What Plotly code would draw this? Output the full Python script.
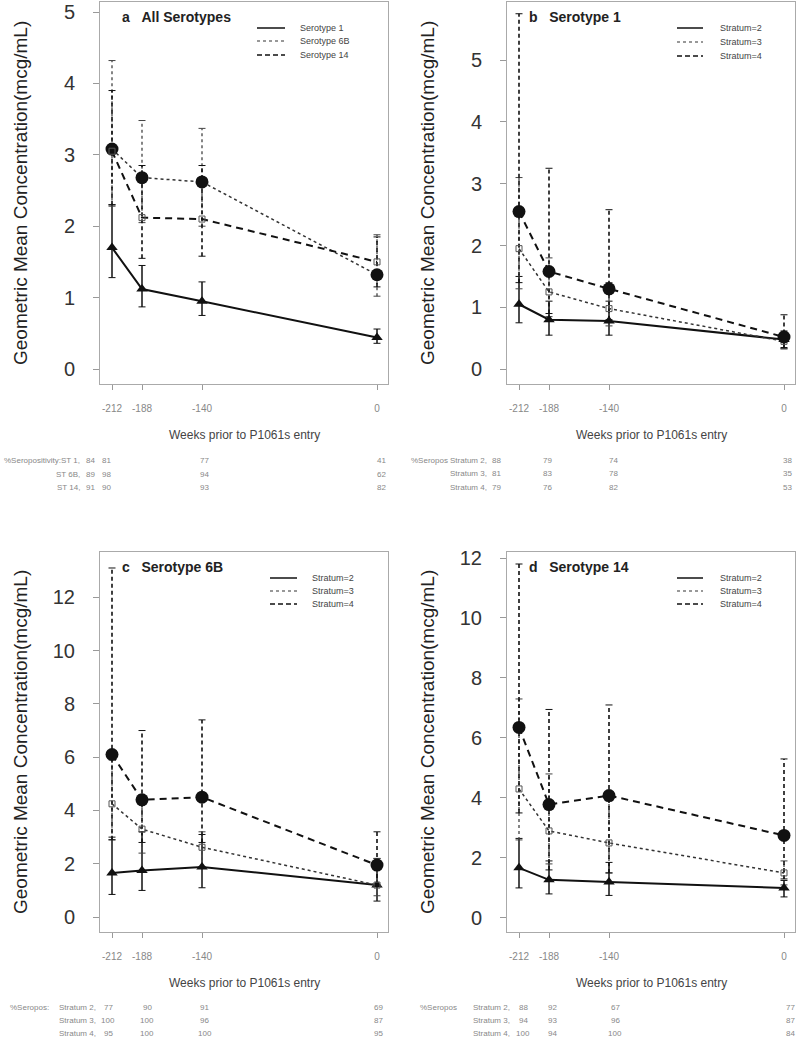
import plotly.graph_objects as go

W, H = 804, 1050

weeks = [-212, -188, -140, 0]
week_labels = ["-212", "-188", "-140", "0"]

# panel a: all serotypes
a_st1 = [1.70, 1.12, 0.95, 0.44]
a_st1_lo = [1.28, 0.87, 0.75, 0.36]
a_st1_hi = [2.30, 1.45, 1.22, 0.56]
a_st6b = [3.08, 2.68, 2.62, 1.32]
a_st6b_lo = [2.28, 2.05, 2.00, 1.02]
a_st6b_hi = [4.32, 3.48, 3.37, 1.88]
a_st14 = [3.05, 2.12, 2.10, 1.50]
a_st14_lo = [2.30, 1.55, 1.58, 1.15]
a_st14_hi = [3.90, 2.85, 2.85, 1.85]

# panel b: serotype 1 by stratum
b_s2 = [1.05, 0.80, 0.78, 0.48]
b_s2_lo = [0.75, 0.55, 0.55, 0.33]
b_s2_hi = [1.50, 1.10, 1.10, 0.60]
b_s3 = [1.95, 1.25, 0.98, 0.45]
b_s3_lo = [1.30, 0.85, 0.70, 0.33]
b_s3_hi = [3.10, 1.80, 1.40, 0.62]
b_s4 = [2.55, 1.58, 1.30, 0.52]
b_s4_lo = [1.40, 0.90, 0.80, 0.35]
b_s4_hi = [5.75, 3.25, 2.58, 0.88]

# panel c: serotype 6B by stratum
c_s2 = [1.65, 1.75, 1.88, 1.20]
c_s2_lo = [0.85, 1.00, 1.10, 0.60]
c_s2_hi = [3.00, 3.20, 3.10, 2.20]
c_s3 = [4.25, 3.30, 2.62, 1.20]
c_s3_lo = [2.90, 2.40, 1.90, 0.80]
c_s3_hi = [5.90, 4.40, 3.20, 2.20]
c_s4 = [6.10, 4.40, 4.50, 1.95]
c_s4_lo = [2.90, 2.80, 2.80, 1.20]
c_s4_hi = [13.1, 7.00, 7.40, 3.20]

# panel d: serotype 14 by stratum
d_s2 = [1.67, 1.27, 1.20, 1.00]
d_s2_lo = [1.00, 0.80, 0.75, 0.70]
d_s2_hi = [2.65, 1.90, 1.85, 1.25]
d_s3 = [4.30, 2.90, 2.50, 1.50]
d_s3_lo = [2.60, 1.80, 1.50, 1.10]
d_s3_hi = [7.30, 4.80, 3.90, 1.90]
d_s4 = [6.35, 3.78, 4.08, 2.75]
d_s4_lo = [3.50, 1.60, 1.50, 1.30]
d_s4_hi = [11.8, 6.95, 7.10, 5.30]

# %seropositivity tables under each panel
a_rows = ["ST 1,", "ST 6B,", "ST 14,"]
a_pct = [[84, 81, 77, 41], [89, 98, 94, 62], [91, 90, 93, 82]]
strata_rows = ["Stratum 2,", "Stratum 3,", "Stratum 4,"]
b_pct = [[88, 79, 74, 38], [81, 83, 78, 35], [79, 76, 82, 53]]
c_pct = [[77, 90, 91, 69], [100, 100, 96, 87], [95, 100, 100, 95]]
d_pct = [[88, 92, 67, 77], [94, 93, 96, 87], [100, 94, 100, 84]]

strata_names = ["Stratum=2", "Stratum=3", "Stratum=4"]

FONT = "Liberation Sans, Arial, sans-serif"

LINE = {
    "solid": dict(color="#111", width=2, dash="solid"),
    "dot": dict(color="#333", width=1.5, dash="dot"),
    "dash": dict(color="#111", width=2, dash="7px,5px"),
}
ERR = {
    "solid": dict(color="#111", width=1.5, dash="solid"),
    "dot": dict(color="#444", width=1.3, dash="dot"),
    "dash": dict(color="#111", width=1.6, dash="4px,3px"),
}
MARK = {
    "tri": dict(symbol="triangle-up", size=10, color="#111"),
    "circ": dict(symbol="circle", size=13, color="#111"),
    "sq": dict(symbol="square-open", size=6, color="#555", line=dict(width=1, color="#555")),
}


def px(x):
    return x / W


def py(y):
    return 1 - y / H


panels = [
    dict(ax="", letter="a", title="All Serotypes", box=(100, 388, 2, 384),
         yrange=[-0.21, 5.14], dtick=1,
         series=[(a_st1, a_st1_lo, a_st1_hi, "solid", "tri"),
                 (a_st6b, a_st6b_lo, a_st6b_hi, "dot", "circ"),
                 (a_st14, a_st14_lo, a_st14_hi, "dash", "sq")],
         names=["Serotype 1", "Serotype 6B", "Serotype 14"],
         leg=(257, 285, 298, [28, 41, 55]),
         ytitle_x=20,
         tab=dict(rows=a_rows, pct=a_pct, head="%Seropositivity:", head_x=2,
                  lab_x=82, cols=[90, 106, 205, 381], ys=[461, 475, 488])),
    dict(ax="2", letter="b", title="Serotype 1", box=(507, 795, 2, 384),
         yrange=[-0.24, 5.94], dtick=1,
         series=[(b_s2, b_s2_lo, b_s2_hi, "solid", "tri"),
                 (b_s3, b_s3_lo, b_s3_hi, "dot", "sq"),
                 (b_s4, b_s4_lo, b_s4_hi, "dash", "circ")],
         names=strata_names,
         leg=(677, 703, 718, [28, 42, 56]),
         ytitle_x=427,
         tab=dict(rows=strata_rows, pct=b_pct, head="%Seropos", head_x=409,
                  lab_x=489, cols=[496, 547, 613, 787], ys=[461, 474, 487])),
    dict(ax="3", letter="c", title="Serotype 6B", box=(100, 388, 552, 932),
         yrange=[-0.56, 13.70], dtick=2,
         series=[(c_s2, c_s2_lo, c_s2_hi, "solid", "tri"),
                 (c_s3, c_s3_lo, c_s3_hi, "dot", "sq"),
                 (c_s4, c_s4_lo, c_s4_hi, "dash", "circ")],
         names=strata_names,
         leg=(270, 297, 310, [578, 591, 604]),
         ytitle_x=20,
         tab=dict(rows=strata_rows, pct=c_pct, head="%Seropos:", head_x=8,
                  lab_x=98, cols=[108, 147, 205, 378], ys=[1007, 1020, 1033])),
    dict(ax="4", letter="d", title="Serotype 14", box=(507, 795, 552, 932),
         yrange=[-0.47, 12.2], dtick=2,
         series=[(d_s2, d_s2_lo, d_s2_hi, "solid", "tri"),
                 (d_s3, d_s3_lo, d_s3_hi, "dot", "sq"),
                 (d_s4, d_s4_lo, d_s4_hi, "dash", "circ")],
         names=strata_names,
         leg=(677, 703, 718, [578, 591, 604]),
         ytitle_x=427,
         tab=dict(rows=strata_rows, pct=d_pct, head="%Seropos", head_x=418,
                  lab_x=512, cols=[523, 552, 615, 790], ys=[1007, 1020, 1033])),
]

fig = go.Figure()
annotations = []
shapes = []

for p in panels:
    xa, ya = "x" + p["ax"], "y" + p["ax"]
    x0, x1, y0, y1 = p["box"]

    # error bars first, then lines with markers
    for y, lo, hi, dash, mk in p["series"]:
        ex, ey = [], []
        for w, l, h in zip(weeks, lo, hi):
            ex += [w, w, None]
            ey += [l, h, None]
        fig.add_trace(go.Scatter(x=ex, y=ey, mode="lines", line=ERR[dash],
                                 xaxis=xa, yaxis=ya, showlegend=False, hoverinfo="skip"))
        fig.add_trace(go.Scatter(x=weeks + weeks, y=lo + hi, mode="markers",
                                 marker=dict(symbol="line-ew", size=5,
                                             line=dict(width=1, color=ERR[dash]["color"])),
                                 xaxis=xa, yaxis=ya, showlegend=False, hoverinfo="skip"))
    for y, lo, hi, dash, mk in p["series"]:
        fig.add_trace(go.Scatter(x=weeks, y=y, mode="lines+markers", line=LINE[dash],
                                 marker=MARK[mk], xaxis=xa, yaxis=ya, showlegend=False))

    # axes
    fig.update_layout(**{
        "xaxis" + p["ax"]: dict(domain=[px(x0), px(x1)], range=[-221.6, 8.8], anchor=ya,
                                tickvals=weeks, ticktext=week_labels, ticks="outside",
                                ticklen=5, tickcolor="#999", ticklabelstandoff=10,
                                tickfont=dict(family=FONT, size=10, color="#888"),
                                showline=True, mirror=True, linecolor="#aaa", linewidth=1,
                                showgrid=False, zeroline=False, automargin=False),
        "yaxis" + p["ax"]: dict(domain=[py(y1), py(y0)], range=p["yrange"], anchor=xa,
                                tick0=0, dtick=p["dtick"], ticks="outside", ticklen=6,
                                tickcolor="#999", ticklabelstandoff=14,
                                tickfont=dict(family=FONT, size=20, color="#333"),
                                showline=True, mirror=True, linecolor="#aaa", linewidth=1,
                                showgrid=False, zeroline=False, automargin=False),
    })

    # panel title
    annotations.append(dict(x=px(x0 + 20), y=py(y0 + 15), xref="paper", yref="paper",
                            xanchor="left", yanchor="middle", showarrow=False,
                            text="<b>%s</b>&nbsp;&nbsp;&nbsp;<b>%s</b>" % (p["letter"], p["title"]),
                            font=dict(family=FONT, size=14, color="#222")))

    # legend drawn as line samples + text
    lx0, lx1, tx, rows = p["leg"]
    for (y, lo, hi, dash, mk), name, ry in zip(p["series"], p["names"], rows):
        st = LINE[dash]
        shapes.append(dict(type="line", xref="paper", yref="paper",
                           x0=px(lx0), x1=px(lx1), y0=py(ry), y1=py(ry),
                           line=dict(color=st["color"], width=1.5 if dash != "dot" else 1.2,
                                     dash="5px,3px" if dash == "dash" else st["dash"])))
        annotations.append(dict(x=px(tx), y=py(ry), xref="paper", yref="paper",
                                xanchor="left", yanchor="middle", showarrow=False, text=name,
                                font=dict(family=FONT, size=9, color="#444")))

    # y title
    annotations.append(dict(x=px(p["ytitle_x"]), y=py((y0 + y1) / 2), xref="paper", yref="paper",
                            textangle=-90, showarrow=False, xanchor="center", yanchor="middle",
                            text="Geometric Mean Concentration(mcg/mL)",
                            font=dict(family=FONT, size=19, color="#222")))

    # x title
    annotations.append(dict(x=px((x0 + x1) / 2), y=py(y1 + 51), xref="paper", yref="paper",
                            showarrow=False, xanchor="center", yanchor="middle",
                            text="Weeks prior to P1061s entry",
                            font=dict(family=FONT, size=12, color="#444")))

    # seropositivity table
    t = p["tab"]
    tf = dict(family=FONT, size=8, color="#888")
    annotations.append(dict(x=px(t["head_x"]), y=py(t["ys"][0]), xref="paper", yref="paper",
                            xanchor="left", yanchor="middle", showarrow=False,
                            text=t["head"], font=tf))
    for lab, vals, ry in zip(t["rows"], t["pct"], t["ys"]):
        annotations.append(dict(x=px(t["lab_x"]), y=py(ry), xref="paper", yref="paper",
                                xanchor="right", yanchor="middle", showarrow=False,
                                text=lab, font=tf))
        for v, cx in zip(vals, t["cols"]):
            annotations.append(dict(x=px(cx), y=py(ry), xref="paper", yref="paper",
                                    xanchor="center", yanchor="middle", showarrow=False,
                                    text=str(v), font=tf))

fig.update_layout(width=W, height=H, margin=dict(l=0, r=0, t=0, b=0),
                  paper_bgcolor="white", plot_bgcolor="white", showlegend=False,
                  annotations=annotations, shapes=shapes,
                  font=dict(family=FONT))

# drop the default page margin so the figure sits flush in the window
fig.write_html("out.html", config={"displayModeBar": False},
               post_script="document.body.style.margin='0';document.body.style.overflow='hidden';")
